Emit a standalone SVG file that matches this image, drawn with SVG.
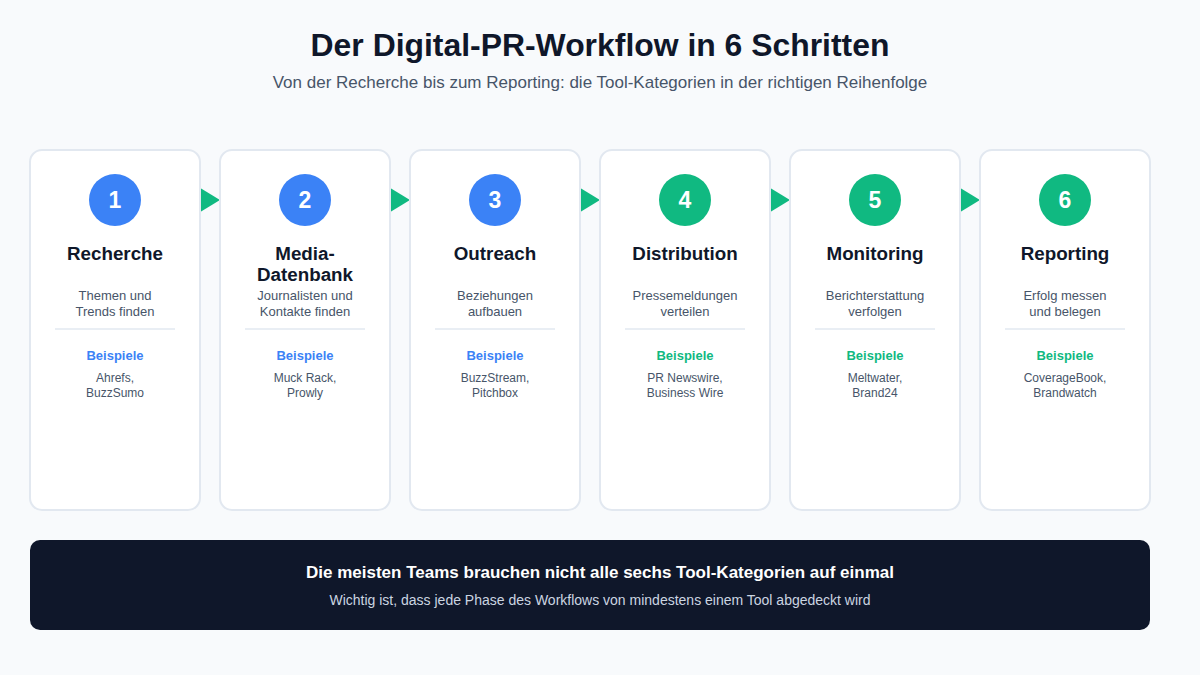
<svg xmlns="http://www.w3.org/2000/svg" width="1200" height="675" viewBox="0 0 1200 675">
<defs>
<style>
text{font-family:"Liberation Sans",Arial,sans-serif;text-anchor:middle}
.card{fill:#ffffff;stroke:#e2e8f0;stroke-width:2}
.num{fill:#ffffff;font-size:23px;font-weight:bold}
.ttl{fill:#0f172a;font-size:18.8px;font-weight:bold}
.desc{fill:#475569;font-size:13px}
.div{stroke:#e2e8f0;stroke-width:1.5}
.bsp{font-size:13px;font-weight:bold}
.ex{fill:#475569;font-size:12px}
.blue{fill:#3b82f6}
.green{fill:#10b981}
.arrow{fill:#10b981}
</style>
</defs>
<rect width="1200" height="675" fill="#f8fafc"/>
<text x="600" y="56" fill="#0f172a" font-size="31.9" font-weight="bold">Der Digital-PR-Workflow in 6 Schritten</text>
<text x="600" y="88" fill="#475569" font-size="17">Von der Recherche bis zum Reporting: die Tool-Kategorien in der richtigen Reihenfolge</text>

<g id="connectors">
<polygon class="arrow" points="197,186 220,200 197,214"/>
<polygon class="arrow" points="387,186 410,200 387,214"/>
<polygon class="arrow" points="577,186 600,200 577,214"/>
<polygon class="arrow" points="767,186 790,200 767,214"/>
<polygon class="arrow" points="957,186 980,200 957,214"/>
</g>

<g id="step1">
<rect class="card" x="30" y="150" width="170" height="360" rx="12"/>
<circle class="blue" cx="115" cy="200" r="26"/>
<text class="num" x="115" y="208">1</text>
<text class="ttl" x="115" y="260">Recherche</text>
<text class="desc" x="115" y="300">Themen und</text>
<text class="desc" x="115" y="316">Trends finden</text>
<line class="div" x1="55" y1="329" x2="175" y2="329"/>
<text class="bsp blue" x="115" y="360">Beispiele</text>
<text class="ex" x="115" y="382">Ahrefs,</text>
<text class="ex" x="115" y="397">BuzzSumo</text>
</g>

<g id="step2">
<rect class="card" x="220" y="150" width="170" height="360" rx="12"/>
<circle class="blue" cx="305" cy="200" r="26"/>
<text class="num" x="305" y="208">2</text>
<text class="ttl" x="305" y="260">Media-</text>
<text class="ttl" x="305" y="281">Datenbank</text>
<text class="desc" x="305" y="300">Journalisten und</text>
<text class="desc" x="305" y="316">Kontakte finden</text>
<line class="div" x1="245" y1="329" x2="365" y2="329"/>
<text class="bsp blue" x="305" y="360">Beispiele</text>
<text class="ex" x="305" y="382">Muck Rack,</text>
<text class="ex" x="305" y="397">Prowly</text>
</g>

<g id="step3">
<rect class="card" x="410" y="150" width="170" height="360" rx="12"/>
<circle class="blue" cx="495" cy="200" r="26"/>
<text class="num" x="495" y="208">3</text>
<text class="ttl" x="495" y="260">Outreach</text>
<text class="desc" x="495" y="300">Beziehungen</text>
<text class="desc" x="495" y="316">aufbauen</text>
<line class="div" x1="435" y1="329" x2="555" y2="329"/>
<text class="bsp blue" x="495" y="360">Beispiele</text>
<text class="ex" x="495" y="382">BuzzStream,</text>
<text class="ex" x="495" y="397">Pitchbox</text>
</g>

<g id="step4">
<rect class="card" x="600" y="150" width="170" height="360" rx="12"/>
<circle class="green" cx="685" cy="200" r="26"/>
<text class="num" x="685" y="208">4</text>
<text class="ttl" x="685" y="260">Distribution</text>
<text class="desc" x="685" y="300">Pressemeldungen</text>
<text class="desc" x="685" y="316">verteilen</text>
<line class="div" x1="625" y1="329" x2="745" y2="329"/>
<text class="bsp green" x="685" y="360">Beispiele</text>
<text class="ex" x="685" y="382">PR Newswire,</text>
<text class="ex" x="685" y="397">Business Wire</text>
</g>

<g id="step5">
<rect class="card" x="790" y="150" width="170" height="360" rx="12"/>
<circle class="green" cx="875" cy="200" r="26"/>
<text class="num" x="875" y="208">5</text>
<text class="ttl" x="875" y="260">Monitoring</text>
<text class="desc" x="875" y="300">Berichterstattung</text>
<text class="desc" x="875" y="316">verfolgen</text>
<line class="div" x1="815" y1="329" x2="935" y2="329"/>
<text class="bsp green" x="875" y="360">Beispiele</text>
<text class="ex" x="875" y="382">Meltwater,</text>
<text class="ex" x="875" y="397">Brand24</text>
</g>

<g id="step6">
<rect class="card" x="980" y="150" width="170" height="360" rx="12"/>
<circle class="green" cx="1065" cy="200" r="26"/>
<text class="num" x="1065" y="208">6</text>
<text class="ttl" x="1065" y="260">Reporting</text>
<text class="desc" x="1065" y="300">Erfolg messen</text>
<text class="desc" x="1065" y="316">und belegen</text>
<line class="div" x1="1005" y1="329" x2="1125" y2="329"/>
<text class="bsp green" x="1065" y="360">Beispiele</text>
<text class="ex" x="1065" y="382">CoverageBook,</text>
<text class="ex" x="1065" y="397">Brandwatch</text>
</g>

<g id="banner">
<rect x="30" y="540" width="1120" height="90" rx="10" fill="#0f172a"/>
<text x="600" y="578" fill="#ffffff" font-size="17" font-weight="bold">Die meisten Teams brauchen nicht alle sechs Tool-Kategorien auf einmal</text>
<text x="600" y="605" fill="#cbd5e1" font-size="14">Wichtig ist, dass jede Phase des Workflows von mindestens einem Tool abgedeckt wird</text>
</g>
</svg>
